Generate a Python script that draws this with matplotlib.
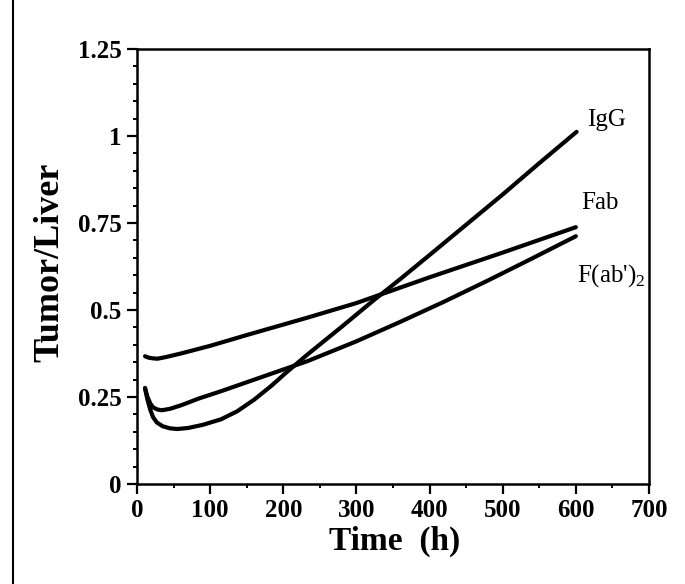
import matplotlib
matplotlib.use("Agg")
import matplotlib.pyplot as plt
from matplotlib.patches import Rectangle
from matplotlib.ticker import MultipleLocator, FixedLocator

# ---- data ----
igg_t = [11, 14, 18, 22, 27, 35, 45, 55, 70, 90, 115, 137, 160, 183, 205, 233, 280, 323, 360, 400, 450, 500, 550, 601]
igg_y = [0.275, 0.245, 0.214, 0.192, 0.177, 0.166, 0.160, 0.158, 0.161, 0.170, 0.186, 0.209, 0.242, 0.281, 0.322, 0.372, 0.452, 0.527, 0.589, 0.658, 0.745, 0.832, 0.922, 1.012]

fab_t = [11, 16, 22, 28, 40, 60, 100, 150, 233, 300, 400, 500, 600]
fab_y = [0.367, 0.363, 0.361, 0.360, 0.365, 0.375, 0.397, 0.428, 0.478, 0.520, 0.594, 0.665, 0.738]

f2_t = [11, 14, 18, 22, 28, 34, 45, 60, 85, 114, 155, 196, 233, 300, 360, 420, 480, 540, 600]
f2_y = [0.276, 0.252, 0.232, 0.220, 0.214, 0.212, 0.216, 0.226, 0.246, 0.266, 0.296, 0.326, 0.353, 0.410, 0.466, 0.524, 0.585, 0.648, 0.712]

ytick_vals = [0, 0.25, 0.5, 0.75, 1, 1.25]
ytick_labels = ["0", "0.25", "0.5", "0.75", "1", "1.25"]
xtick_vals = [0, 100, 200, 300, 400, 500, 600, 700]

plt.rcParams['font.family'] = ['Liberation Serif', 'DejaVu Serif']
plt.rcParams['mathtext.fontset'] = 'custom'
plt.rcParams['mathtext.rm'] = 'Liberation Serif'

fig = plt.figure(figsize=(6.85, 5.84), dpi=100)
ax = fig.add_axes([137/685, 1 - 484/584, (649 - 137)/685, (484 - 49)/584])

lw = 3.0
ax.plot(igg_t, igg_y, color='black', lw=lw, solid_capstyle='round', solid_joinstyle='round')
ax.plot(fab_t, fab_y, color='black', lw=lw, solid_capstyle='round', solid_joinstyle='round')
ax.plot(f2_t, f2_y, color='black', lw=lw, solid_capstyle='round', solid_joinstyle='round')

# curve labels
ax.text(615, 1.045, "IgG", fontsize=18, va='center', ha='left')
ax.text(607, 0.808, "Fab", fontsize=18, va='center', ha='left')
ax.text(601, 0.60, "F(ab')$_2$", fontsize=18, va='center', ha='left')

ax.set_xlim(0, 700)
ax.set_ylim(0, 1.25)

ax.xaxis.set_major_locator(FixedLocator(xtick_vals))
ax.xaxis.set_minor_locator(MultipleLocator(50))
ax.yaxis.set_major_locator(FixedLocator(ytick_vals))
ax.yaxis.set_minor_locator(MultipleLocator(0.05))
ax.set_yticklabels(ytick_labels)

for s in ax.spines.values():
    s.set_linewidth(1.8)

ax.tick_params(which='major', direction='out', length=7, width=1.6, labelsize=18, pad=4)
ax.tick_params(which='minor', direction='out', length=3, width=1.4)
for lab in ax.get_xticklabels() + ax.get_yticklabels():
    lab.set_fontweight('bold')

# axis titles
fig.text(395/685, 1 - 541/584, "Time  (h)", fontsize=24, fontweight='bold', ha='center', va='center')
fig.text(50/685, 1 - 262/584, "Tumor/Liver", fontsize=26, fontweight='bold', rotation=90, ha='center', va='center')

# outer frame
fig.patches.append(Rectangle((13/685, -0.2), 1.5, 1.2 + 1 - 14/584, transform=fig.transFigure,
                             fill=False, edgecolor='black', lw=1.5))

fig.savefig("out.png", dpi=100)
